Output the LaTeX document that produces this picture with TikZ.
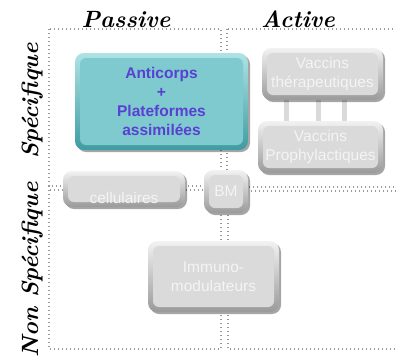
\documentclass[tikz,border=0pt]{standalone}
\usepackage{fontspec}
\newfontfamily\boxfont{Liberation Sans}
\usetikzlibrary{shadows,backgrounds,calc}
\definecolor{dotgray}{HTML}{999999}
\definecolor{gcenter}{HTML}{DADADA}
\definecolor{gtop}{HTML}{F2F2F2}
\definecolor{gbottom}{HTML}{9A9A9A}
\definecolor{gtext}{HTML}{F4F4F4}
\definecolor{tcenter}{HTML}{7ECACE}
\definecolor{ttop}{HTML}{AEE3E5}
\definecolor{tbottom}{HTML}{3E9CA2}
\definecolor{antitext}{HTML}{5A40D2}
\definecolor{bargray}{HTML}{DADADA}
\begin{document}
\begin{tikzpicture}[x=1pt,y=-1pt,
  quad/.style={draw=dotgray,line width=1.2pt,dash pattern=on 1.3pt off 2.7pt},
  axislabel/.style={font=\fontsize{23.5}{26}\selectfont\bfseries\itshape,inner sep=0pt,anchor=base},
  bevel/.style={rounded corners=9pt,inner sep=0pt,
    drop shadow={shadow xshift=2pt,shadow yshift=-2pt,fill=black,opacity=0.35},
    path picture={\fill[#1,rounded corners=6pt]
      ([shift={(5pt,-5pt)}]path picture bounding box.north west) rectangle
      ([shift={(-5pt,5pt)}]path picture bounding box.south east);}},
  graybox/.style={bevel=gcenter,top color=gtop,bottom color=gbottom,
    font=\boxfont\fontsize{15.5}{19.5}\selectfont,text=gtext,align=center},
  tealbox/.style={bevel=tcenter,top color=ttop,bottom color=tbottom,
    font=\boxfont\fontsize{15.5}{19}\selectfont\bfseries,text=antitext,align=center},
  bar/.style={draw=bargray,line width=5pt}
]
\useasboundingbox (0,0) rectangle (396,360);
% quadrants
\draw[quad] (49,29) rectangle (221,186);
\draw[quad] (227,29) rectangle (400,187);
\draw[quad] (49,190) rectangle (221,349);
\draw[quad] (228,191) rectangle (400,349);
% axis labels
\node[axislabel] (passive) at (126,27) {Passive};
\node[axislabel] (active) at (298,27) {Active};
\node[axislabel,rotate=90] (spec) at (38,101) {Spécifique};
\node[axislabel,rotate=90] (nonspec) at (38,270) {Non Spécifique};
% boxes
\node[tealbox,minimum width=173pt,minimum height=97pt] (anti) at (161.5,101.5)
  {Anticorps\\+\\Plateformes\\assimilées};
\node[graybox,minimum width=121pt,minimum height=52pt] (vt) at (322.5,74)
  {Vaccins\\thérapeutiques};
\node[graybox,minimum width=125pt,minimum height=52pt] (vp) at (320.5,147)
  {Vaccins\\Prophylactiques};
\node[graybox,minimum width=122pt,minimum height=36pt] (cel) at (124,189) {};
\node[font=\boxfont\fontsize{15.5}{19}\selectfont,text=gtext,inner sep=0pt] (celtext)
  at ($(cel.center)+(0,9)$) {cellulaires};
\node[graybox,minimum width=44pt,minimum height=43pt] (bm) at (226,191.5) {BM};
\node[graybox,minimum width=131pt,minimum height=71pt] (imm) at (213.5,276.5)
  {Immuno-\\modulateurs};
% bars between vaccine boxes
\coordinate (b1) at (286,0);
\coordinate (b2) at (318,0);
\coordinate (b3) at (344,0);
\begin{scope}[on background layer]
\draw[bar] (vt.south -| b1) -- (vp.north -| b1);
\draw[bar] (vt.south -| b2) -- (vp.north -| b2);
\draw[bar] (vt.south -| b3) -- (vp.north -| b3);
\end{scope}
\end{tikzpicture}
\end{document}
